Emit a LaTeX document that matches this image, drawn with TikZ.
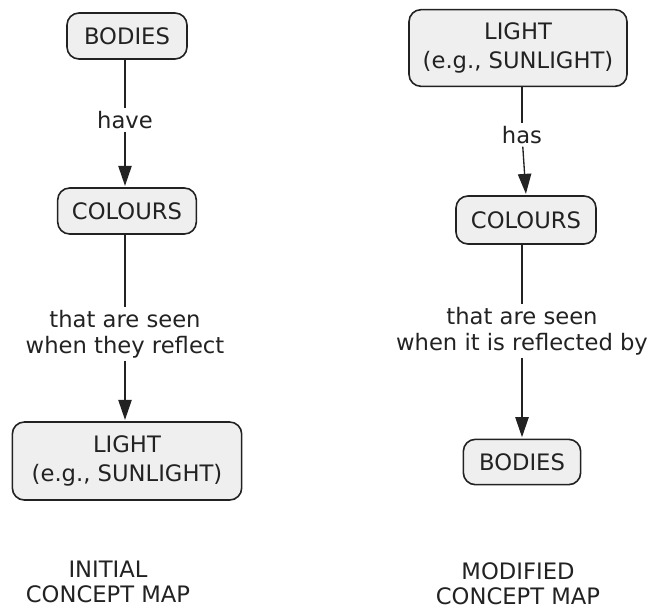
\documentclass[tikz,border=0pt]{standalone}
\usepackage{fontspec}
\setmainfont{DejaVu Sans}
\usetikzlibrary{arrows.meta}
\definecolor{boxfill}{HTML}{EFEFEF}
\definecolor{ink}{HTML}{222222}
\tikzset{
  concept/.style={draw=ink, line width=1.2pt, fill=boxfill, rounded corners=9pt, align=center, inner sep=0pt, font=\fontsize{17}{21.5}\selectfont, text=ink},
  linklabel/.style={align=center, inner sep=2pt, font=\fontsize{17}{19.5}\selectfont, text=ink},
  caption/.style={align=center, inner sep=0pt, font=\fontsize{17}{18.5}\selectfont, text=ink},
  link/.style={draw=ink, line width=1pt},
  linkarrow/.style={draw=ink, line width=1pt, -{Triangle[width=10pt,length=15pt]}, shorten >=1pt}
}
\begin{document}
\begin{tikzpicture}[x=0.75pt,y=-0.75pt]
\useasboundingbox (0,0) rectangle (648,611);
% Left map
\node[concept, minimum width=90pt, minimum height=34.5pt] (b1) at (127,36) {BODIES};
\node[linklabel] (l1) at (125,120) {have};
\node[concept, minimum width=104pt, minimum height=34.5pt] (c1) at (127,211) {COLOURS};
\node[linklabel] (l2) at (125,334) {that are seen\\when they reflect};
\node[concept, minimum width=172pt, minimum height=58.5pt] (s1) at (127,461) {LIGHT\\(e.g., SUNLIGHT)};
\node[caption] (t1) at (108,582) {INITIAL\\CONCEPT MAP};
\draw[link] (b1.south -| l1) -- (l1);
\draw[linkarrow] (l1) -- (c1.north -| l1);
\draw[link] (c1.south -| l2) -- (l2);
\draw[linkarrow] (l2) -- (s1.north -| l2);
% Right map
\node[concept, minimum width=163.5pt, minimum height=57.5pt] (s2) at (518,48) {LIGHT\\(e.g., SUNLIGHT)};
\node[linklabel] (l3) at (522,135) {has};
\node[concept, minimum width=105pt, minimum height=36pt] (c2) at (526,220) {COLOURS};
\node[linklabel] (l4) at (522,331) {that are seen\\when it is reflected by};
\node[concept, minimum width=88pt, minimum height=34pt] (b2) at (522,462) {BODIES};
\node[caption] (t2) at (518,584) {MODIFIED\\CONCEPT MAP};
\draw[link] (s2.south -| l3) -- (l3);
\draw[linkarrow] (l3) -- (c2.north);
\draw[link] (c2.south -| l4) -- (l4);
\draw[linkarrow] (l4) -- (b2.north);
\end{tikzpicture}
\end{document}
